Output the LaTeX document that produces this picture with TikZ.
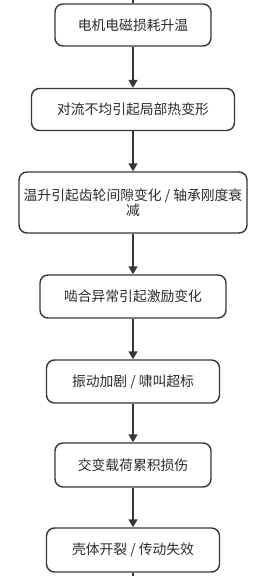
\documentclass[tikz,border=0pt]{standalone}
\usepackage{fontspec}
\newfontfamily\cjk{Noto Sans CJK SC}
\usetikzlibrary{arrows.meta}
\definecolor{edge}{HTML}{33363D}
\definecolor{txt}{HTML}{2B2B2B}
\begin{document}
\begin{tikzpicture}[x=1pt,y=-1pt,
  stepbox/.style={draw=edge,line width=1.4pt,rounded corners=8pt,fill=white,
    inner sep=0pt,align=center,text=txt,font=\cjk\fontsize{13.8}{15}\selectfont},
  conn/.style={draw=edge,line width=1.4pt,-{Triangle[length=8pt,width=9pt]}}]
\useasboundingbox (0,0) rectangle (269,576);
\node[stepbox,minimum width=156pt,minimum height=42pt] (b1) at (133,25) {电机电磁损耗升温};
\node[stepbox,minimum width=203pt,minimum height=42pt] (b2) at (133,109.5) {对流不均引起局部热变形};
\node[stepbox,minimum width=228pt,minimum height=61pt] (b3) at (133,202.5) {温升引起齿轮间隙变化 / 轴承刚度衰\\减};
\node[stepbox,minimum width=186pt,minimum height=43pt] (b4) at (133,296.5) {啮合异常引起激励变化};
\node[stepbox,minimum width=173pt,minimum height=43pt] (b5) at (133,381.5) {振动加剧 / 啸叫超标};
\node[stepbox,minimum width=156pt,minimum height=44pt] (b6) at (133,465) {交变载荷累积损伤};
\node[stepbox,minimum width=173pt,minimum height=44pt] (b7) at (133,550) {壳体开裂 / 传动失效};
\coordinate (top) at (133,0);
\coordinate (bot) at (133,576);
\draw[draw=edge,line width=1.4pt] (top) -- (b1.north);
\draw[draw=edge,line width=1.4pt] (b7.south) -- (bot);
\draw[conn] (b1) -- (b2);
\draw[conn] (b2) -- (b3);
\draw[conn] (b3) -- (b4);
\draw[conn] (b4) -- (b5);
\draw[conn] (b5) -- (b6);
\draw[conn] (b6) -- (b7);
\end{tikzpicture}
\end{document}
